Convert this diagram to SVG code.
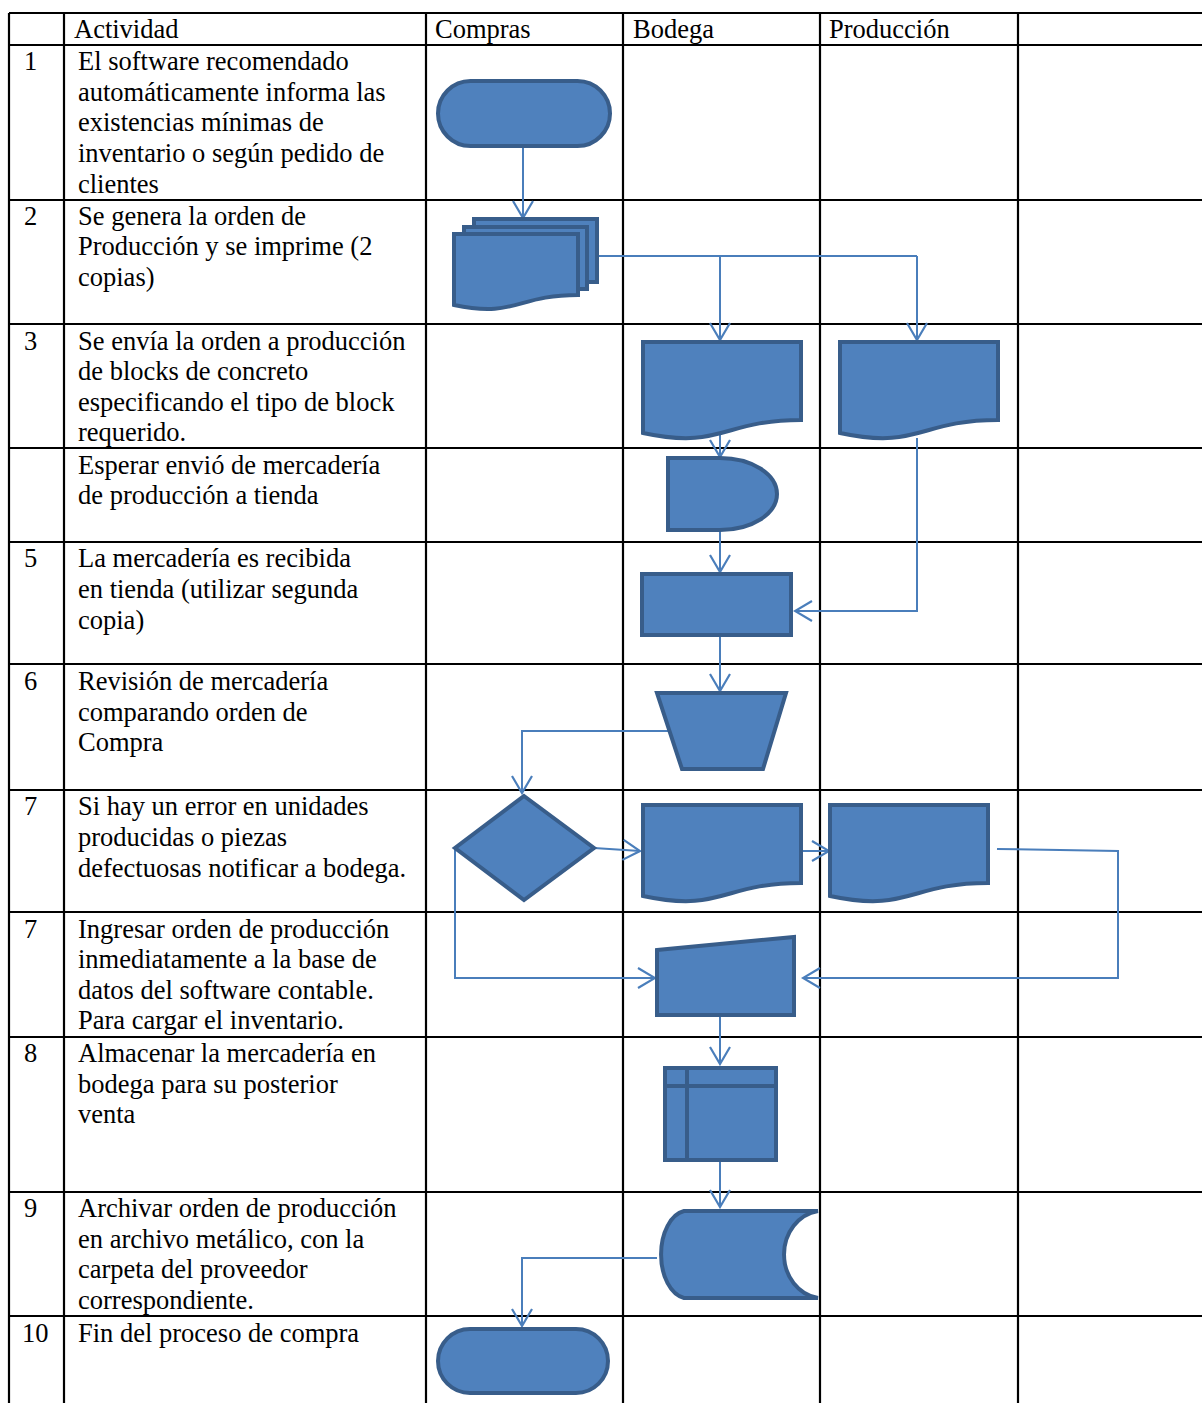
<svg xmlns="http://www.w3.org/2000/svg" width="1202" height="1403" viewBox="0 0 1202 1403">
<style>
.grid{stroke:#000;stroke-width:2.2;fill:none}
.t{font-family:"Liberation Serif","Times New Roman",serif;font-size:26.5px;fill:#000}
.s{fill:#4F81BD;stroke:#385D8A;stroke-width:4;stroke-linejoin:miter}
.c{fill:none;stroke:#4A7EBB;stroke-width:2}
.ca{fill:none;stroke:#4A7EBB;stroke-width:2;marker-end:url(#arr)}
</style>
<defs>
<marker id="arr" viewBox="-20 -12 22 24" markerWidth="22" markerHeight="24" refX="0" refY="0" orient="auto" markerUnits="userSpaceOnUse">
<path d="M-17,-10 L0,0 L-17,10" fill="none" stroke="#4A7EBB" stroke-width="2.2"/>
</marker>
</defs>
<rect width="1202" height="1403" fill="#fff"/>
<g id="table">
<path class="grid" d="M9,13 H1202 M9,45 H1202 M9,200 H1202 M9,324 H1202 M9,448 H1202 M9,542 H1202 M9,664 H1202 M9,790 H1202 M9,912 H1202 M9,1037 H1202 M9,1192 H1202 M9,1316 H1202 M9,13 V1403 M64,13 V1403 M426,13 V1403 M623,13 V1403 M820,13 V1403 M1018,13 V1403"/>
<text class="t" x="74" y="38">Actividad</text>
<text class="t" x="435" y="38">Compras</text>
<text class="t" x="633" y="38">Bodega</text>
<text class="t" x="829" y="38">Producción</text>
<text class="t" x="24" y="70">1</text>
<text class="t"><tspan x="78" y="70">El software recomendado</tspan><tspan x="78" y="101">automáticamente informa las</tspan><tspan x="78" y="131">existencias mínimas de</tspan><tspan x="78" y="162">inventario o según pedido de</tspan><tspan x="78" y="193">clientes</tspan></text>
<text class="t" x="24" y="225">2</text>
<text class="t"><tspan x="78" y="225">Se genera la orden de</tspan><tspan x="78" y="255">Producción y se imprime (2</tspan><tspan x="78" y="286">copias)</tspan></text>
<text class="t" x="24" y="350">3</text>
<text class="t"><tspan x="78" y="350">Se envía la orden a producción</tspan><tspan x="78" y="380">de blocks de concreto</tspan><tspan x="78" y="411">especificando el tipo de block</tspan><tspan x="78" y="441">requerido.</tspan></text>
<text class="t"><tspan x="78" y="474">Esperar envió de mercadería</tspan><tspan x="78" y="504">de producción a tienda</tspan></text>
<text class="t" x="24" y="567">5</text>
<text class="t"><tspan x="78" y="567">La mercadería es recibida</tspan><tspan x="78" y="598">en tienda (utilizar segunda</tspan><tspan x="78" y="629">copia)</tspan></text>
<text class="t" x="24" y="690">6</text>
<text class="t"><tspan x="78" y="690">Revisión de mercadería</tspan><tspan x="78" y="721">comparando orden de</tspan><tspan x="78" y="751">Compra</tspan></text>
<text class="t" x="24" y="815">7</text>
<text class="t"><tspan x="78" y="815">Si hay un error en unidades</tspan><tspan x="78" y="846">producidas o piezas</tspan><tspan x="78" y="877">defectuosas notificar a bodega.</tspan></text>
<text class="t" x="24" y="938">7</text>
<text class="t"><tspan x="78" y="938">Ingresar orden de producción</tspan><tspan x="78" y="968">inmediatamente a la base de</tspan><tspan x="78" y="999">datos del software contable.</tspan><tspan x="78" y="1029">Para cargar el inventario.</tspan></text>
<text class="t" x="24" y="1062">8</text>
<text class="t"><tspan x="78" y="1062">Almacenar la mercadería en</tspan><tspan x="78" y="1093">bodega para su posterior</tspan><tspan x="78" y="1123">venta</tspan></text>
<text class="t" x="24" y="1217">9</text>
<text class="t"><tspan x="78" y="1217">Archivar orden de producción</tspan><tspan x="78" y="1248">en archivo metálico, con la</tspan><tspan x="78" y="1278">carpeta del proveedor</tspan><tspan x="78" y="1309">correspondiente.</tspan></text>
<text class="t" x="22" y="1342">10</text>
<text class="t" x="78" y="1342">Fin del proceso de compra</text>
</g>
<g id="connectors">
<path class="ca" d="M523,146 V218"/>
<path class="c" d="M597,256 H917"/>
<path class="ca" d="M720,256 V340"/>
<path class="ca" d="M917,256 V340"/>
<path class="ca" d="M720,432 V457"/>
<path class="ca" d="M917,438 V611 H795"/>
<path class="ca" d="M720,530 V572"/>
<path class="ca" d="M720,635 V691"/>
<path class="ca" d="M670,731 H522 V793"/>
<path class="ca" d="M594,848 L640,851"/>
<path class="ca" d="M801,851 H829"/>
<path class="ca" d="M997,849 L1118,851 V978 H803"/>
<path class="ca" d="M455,848 V978 H655"/>
<path class="ca" d="M720,1015 V1064"/>
<path class="ca" d="M720,1160 V1207"/>
<path class="ca" d="M657,1258 H522 V1326"/>
</g>
<g id="n1"><rect class="s" x="438" y="81" width="172" height="65" rx="32.5"/></g>
<g id="n2">
<rect class="s" x="474" y="219" width="123" height="63"/>
<rect class="s" x="464" y="227" width="123" height="62"/>
<path class="s" d="M454,234 H578 V295 C516,295 516,318 454,305 Z"/>
</g>
<g id="n3a"><path class="s" d="M643,342 H801 V420 C722,420 722,450 643,433 Z"/></g>
<g id="n3b"><path class="s" d="M840,342 H998 V420 C919,420 919,450 840,433 Z"/></g>
<g id="n4"><path class="s" d="M668,458 H720 A57,36 0 0 1 720,530 H668 Z"/></g>
<g id="n5"><rect class="s" x="642" y="574" width="149" height="61"/></g>
<g id="n6"><path class="s" d="M657,693 H786 L763,769 H682 Z"/></g>
<g id="n7"><path class="s" d="M524,796 L594,848 L524,900 L455,848 Z"/></g>
<g id="n7b"><path class="s" d="M643,805 H801 V883 C722,883 722,913 643,896 Z"/></g>
<g id="n7c"><path class="s" d="M830,805 H988 V883 C909,883 909,913 830,896 Z"/></g>
<g id="n8"><path class="s" d="M657,950 L794,937 V1015 H657 Z"/></g>
<g id="n9"><rect class="s" x="665" y="1068" width="111" height="92"/><path class="s" d="M665,1086 H776 M687,1068 V1160" fill="none"/></g>
<g id="n10"><path class="s" d="M684,1211 H818 A40,44 0 0 0 818,1298 H684 A27,44 0 0 1 684,1211 Z"/></g>
<g id="n11"><rect class="s" x="438" y="1329" width="170" height="64" rx="32"/></g>
</svg>
